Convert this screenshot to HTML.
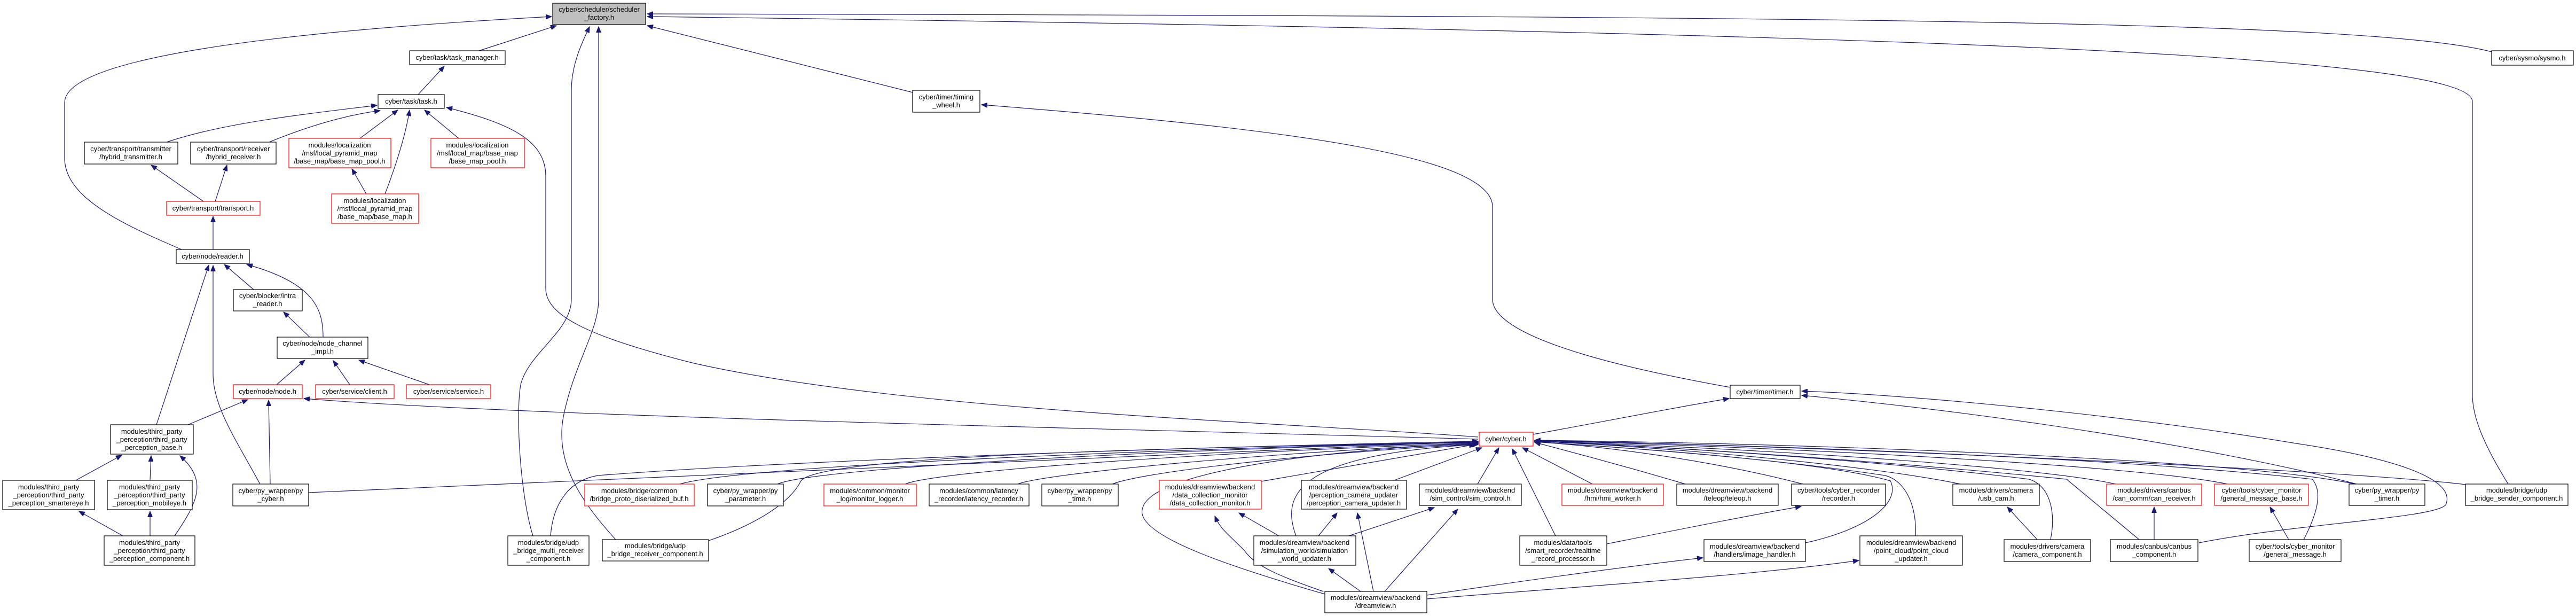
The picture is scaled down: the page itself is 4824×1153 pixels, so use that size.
<!DOCTYPE html>
<html><head><meta charset="utf-8"><style>
html,body{margin:0;padding:0;background:#fff;}
svg{display:block;}
text{font-family:"Liberation Sans",sans-serif;font-size:13px;fill:#000;text-anchor:middle;}
.e{fill:none;stroke:#191970;stroke-width:1.2;marker-end:url(#a);}
.n{fill:#fff;stroke:#000;stroke-width:1.2;}
.r{fill:#fff;stroke:#ff0000;stroke-width:1.2;}
.g{fill:#bfbfbf;stroke:#000;stroke-width:1.2;}
</style></head><body>
<svg width="4824" height="1153" viewBox="0 0 4824 1153" xmlns="http://www.w3.org/2000/svg">
<defs><marker id="a" markerUnits="userSpaceOnUse" markerWidth="12" markerHeight="9" refX="11" refY="4.5" orient="auto"><path d="M0,0 L11,4.5 L0,9 z" fill="#191970" stroke="#191970"/></marker></defs>
<g>
<path class="e" d="M897,95 L1042,48"/>
<path class="e" d="M340,467 C230,420 121,370 121,296 L121,192 C121,110 500,60 1033,31"/>
<path class="e" d="M998,1003 C975,930 965,780 975,720 C990,660 1070,620 1070,560 L1070,170 C1070,120 1090,80 1104,50"/>
<path class="e" d="M1153,1010 C1080,930 1040,860 1055,780 C1075,680 1121,620 1121,560 L1121,50"/>
<path class="e" d="M1709,173 L1212,48"/>
<path class="e" d="M4666,97 C4450,40 3500,30 1212,26"/>
<path class="e" d="M4697,906 C4650,830 4630,780 4630,738 L4630,190 C4630,100 3500,60 1212,31"/>
<path class="e" d="M3240,725 C3100,700 2795,640 2795,560 L2795,387 C2795,290 2400,240 1838,196"/>
<path class="e" d="M783,177 L832,124"/>
<path class="e" d="M312,266 C420,230 560,215 706,197"/>
<path class="e" d="M504,266 C580,235 650,215 712,207"/>
<path class="e" d="M674,259 L745,206"/>
<path class="e" d="M721,363 C745,300 760,250 767,206"/>
<path class="e" d="M859,259 L795,206"/>
<path class="e" d="M2768,818 C2400,790 1700,770 1300,680 C1100,630 1022,590 1022,540 L1022,330 C1022,260 950,230 836,201"/>
<path class="e" d="M686,363 L659,316"/>
<path class="e" d="M381,377 L283,309"/>
<path class="e" d="M403,377 L425,309"/>
<path class="e" d="M399,467 L399,405"/>
<path class="e" d="M475,542 L420,495"/>
<path class="e" d="M605,631 C605,580 590,530 462,495"/>
<path class="e" d="M293,795 L391,496"/>
<path class="e" d="M487,906 C440,820 399,760 399,700 L399,497"/>
<path class="e" d="M580,631 L531,584"/>
<path class="e" d="M518,720 L571,674"/>
<path class="e" d="M655,720 L624,675"/>
<path class="e" d="M804,720 L672,674"/>
<path class="e" d="M352,795 L464,748"/>
<path class="e" d="M506,906 L503,749"/>
<path class="e" d="M2768,822 C2000,800 1000,780 569,746"/>
<path class="e" d="M142,899 L228,852"/>
<path class="e" d="M281,899 L283,853"/>
<path class="e" d="M327,1003 C370,940 390,900 337,853"/>
<path class="e" d="M230,1003 L148,957"/>
<path class="e" d="M281,1003 L281,957"/>
<path class="e" d="M578,922 L2768,826"/>
<path class="e" d="M1031,1003 C1035,950 1060,900 1120,890 C1500,860 2300,835 2768,826"/>
<path class="e" d="M1327,1012 C1420,980 1480,940 1500,900 C1530,860 2000,840 2768,828"/>
<path class="e" d="M1273,906 C1400,870 2200,840 2768,827"/>
<path class="e" d="M1456,906 C1530,875 2200,840 2768,828"/>
<path class="e" d="M1695,906 C1760,880 2300,845 2768,829"/>
<path class="e" d="M1906,906 C1960,885 2400,845 2768,830"/>
<path class="e" d="M2083,906 C2150,880 2500,845 2768,831"/>
<path class="e" d="M2362,901 L2762,832"/>
<path class="e" d="M2611,899 L2775,838"/>
<path class="e" d="M2767,906 L2807,838"/>
<path class="e" d="M2982,906 L2851,838"/>
<path class="e" d="M2913,1003 L2832,840"/>
<path class="e" d="M2427,1003 C2400,930 2420,850 2768,832"/>
<path class="e" d="M2481,1112 C2300,1060 2120,1000 2140,950 C2160,880 2500,840 2768,830"/>
<path class="e" d="M3156,906 C3000,860 2900,835 2874,828"/>
<path class="e" d="M3376,906 C3200,860 3000,835 2874,827"/>
<path class="e" d="M3671,906 C3500,870 3100,835 2874,826"/>
<path class="e" d="M3962,906 C3800,870 3200,835 2874,826"/>
<path class="e" d="M4171,906 C4000,870 3300,835 2874,825"/>
<path class="e" d="M4410,906 C4200,860 3400,830 2874,824"/>
<path class="e" d="M4617,907 C4400,880 3400,835 2874,824"/>
<path class="e" d="M3840,1010 C3850,960 3840,910 3800,897 C3500,860 3100,835 2874,826"/>
<path class="e" d="M4006,1010 L3870,897 C3500,860 3100,835 2874,826"/>
<path class="e" d="M4314,1010 C4340,960 4350,920 4330,897 C4000,860 3400,835 2874,825"/>
<path class="e" d="M3587,1003 C3590,950 3570,900 3530,890 C3300,855 3000,835 2874,827"/>
<path class="e" d="M3381,1016 C3500,990 3560,940 3540,900 C3400,860 3000,835 2874,827"/>
<path class="e" d="M2871,813 C3000,790 3150,760 3238,746"/>
<path class="e" d="M4413,906 C4200,850 3800,780 3374,740"/>
<path class="e" d="M4118,1016 C4300,980 4560,970 4580,945 C4600,900 4500,860 4300,830 C4000,780 3600,740 3374,732"/>
<path class="e" d="M2478,1107 C2400,1080 2350,1060 2330,1030 C2300,1000 2285,990 2275,966"/>
<path class="e" d="M2395,1003 L2320,960"/>
<path class="e" d="M2469,1003 L2504,960"/>
<path class="e" d="M2526,1003 L2686,950"/>
<path class="e" d="M2572,1107 L2542,960"/>
<path class="e" d="M2593,1107 L2730,953"/>
<path class="e" d="M2548,1107 L2488,1064"/>
<path class="e" d="M2672,1114 C2900,1080 3050,1060 3189,1044"/>
<path class="e" d="M2672,1121 C3000,1095 3300,1075 3481,1049"/>
<path class="e" d="M3009,1018 C3150,990 3300,960 3373,948"/>
<path class="e" d="M3815,1010 L3759,949"/>
<path class="e" d="M4034,1010 L4034,949"/>
<path class="e" d="M4286,1010 L4251,949"/>
</g>
<g>
<rect class="g" x="1035" y="6" width="174" height="40"/><text x="1122" y="22">cyber/scheduler/scheduler</text><text x="1122" y="37">_factory.h</text>
<rect class="n" x="767" y="95" width="179" height="26"/><text x="856" y="112">cyber/task/task_manager.h</text>
<rect class="n" x="708" y="177" width="124" height="26"/><text x="770" y="194">cyber/task/task.h</text>
<rect class="n" x="158" y="266" width="175" height="41"/><text x="245" y="283">cyber/transport/transmitter</text><text x="245" y="298">/hybrid_transmitter.h</text>
<rect class="n" x="357" y="266" width="160" height="41"/><text x="437" y="283">cyber/transport/receiver</text><text x="437" y="298">/hybrid_receiver.h</text>
<rect class="r" x="541" y="259" width="191" height="55"/><text x="636" y="276">modules/localization</text><text x="636" y="291">/msf/local_pyramid_map</text><text x="636" y="306">/base_map/base_map_pool.h</text>
<rect class="r" x="807" y="259" width="175" height="55"/><text x="894" y="276">modules/localization</text><text x="894" y="291">/msf/local_map/base_map</text><text x="894" y="306">/base_map_pool.h</text>
<rect class="r" x="621" y="363" width="163" height="55"/><text x="702" y="380">modules/localization</text><text x="702" y="395">/msf/local_pyramid_map</text><text x="702" y="410">/base_map/base_map.h</text>
<rect class="r" x="312" y="377" width="175" height="26"/><text x="399" y="394">cyber/transport/transport.h</text>
<rect class="n" x="330" y="467" width="137" height="26"/><text x="398" y="484">cyber/node/reader.h</text>
<rect class="n" x="437" y="542" width="129" height="40"/><text x="501" y="558">cyber/blocker/intra</text><text x="501" y="573">_reader.h</text>
<rect class="n" x="519" y="631" width="170" height="40"/><text x="604" y="647">cyber/node/node_channel</text><text x="604" y="662">_impl.h</text>
<rect class="r" x="437" y="720" width="129" height="26"/><text x="501" y="737">cyber/node/node.h</text>
<rect class="r" x="591" y="720" width="147" height="26"/><text x="664" y="737">cyber/service/client.h</text>
<rect class="r" x="761" y="720" width="158" height="26"/><text x="840" y="737">cyber/service/service.h</text>
<rect class="n" x="207" y="795" width="155" height="55"/><text x="284" y="812">modules/third_party</text><text x="284" y="827">_perception/third_party</text><text x="284" y="842">_perception_base.h</text>
<rect class="n" x="5" y="899" width="172" height="55"/><text x="91" y="916">modules/third_party</text><text x="91" y="931">_perception/third_party</text><text x="91" y="946">_perception_smartereye.h</text>
<rect class="n" x="201" y="899" width="159" height="55"/><text x="280" y="916">modules/third_party</text><text x="280" y="931">_perception/third_party</text><text x="280" y="946">_perception_mobileye.h</text>
<rect class="n" x="195" y="1003" width="170" height="55"/><text x="280" y="1020">modules/third_party</text><text x="280" y="1035">_perception/third_party</text><text x="280" y="1050">_perception_component.h</text>
<rect class="n" x="436" y="906" width="142" height="41"/><text x="507" y="923">cyber/py_wrapper/py</text><text x="507" y="938">_cyber.h</text>
<rect class="n" x="951" y="1003" width="152" height="55"/><text x="1027" y="1020">modules/bridge/udp</text><text x="1027" y="1035">_bridge_multi_receiver</text><text x="1027" y="1050">_component.h</text>
<rect class="n" x="1128" y="1010" width="199" height="40"/><text x="1227" y="1026">modules/bridge/udp</text><text x="1227" y="1041">_bridge_receiver_component.h</text>
<rect class="r" x="1095" y="906" width="205" height="41"/><text x="1197" y="923">modules/bridge/common</text><text x="1197" y="938">/bridge_proto_diserialized_buf.h</text>
<rect class="n" x="1325" y="906" width="142" height="41"/><text x="1396" y="923">cyber/py_wrapper/py</text><text x="1396" y="938">_parameter.h</text>
<rect class="r" x="1543" y="906" width="173" height="41"/><text x="1629" y="923">modules/common/monitor</text><text x="1629" y="938">_log/monitor_logger.h</text>
<rect class="n" x="1740" y="906" width="187" height="41"/><text x="1833" y="923">modules/common/latency</text><text x="1833" y="938">_recorder/latency_recorder.h</text>
<rect class="n" x="1951" y="906" width="143" height="41"/><text x="2022" y="923">cyber/py_wrapper/py</text><text x="2022" y="938">_time.h</text>
<rect class="n" x="1709" y="169" width="126" height="41"/><text x="1772" y="186">cyber/timer/timing</text><text x="1772" y="201">_wheel.h</text>
<rect class="r" x="2770" y="809" width="101" height="26"/><text x="2820" y="826">cyber/cyber.h</text>
<rect class="r" x="2171" y="899" width="191" height="54"/><text x="2266" y="916">modules/dreamview/backend</text><text x="2266" y="931">/data_collection_monitor</text><text x="2266" y="946">/data_collection_monitor.h</text>
<rect class="n" x="2437" y="899" width="197" height="54"/><text x="2535" y="916">modules/dreamview/backend</text><text x="2535" y="931">/perception_camera_updater</text><text x="2535" y="946">/perception_camera_updater.h</text>
<rect class="n" x="2658" y="906" width="191" height="40"/><text x="2753" y="922">modules/dreamview/backend</text><text x="2753" y="937">/sim_control/sim_control.h</text>
<rect class="r" x="2925" y="906" width="190" height="40"/><text x="3020" y="922">modules/dreamview/backend</text><text x="3020" y="937">/hmi/hmi_worker.h</text>
<rect class="n" x="2348" y="1003" width="191" height="55"/><text x="2443" y="1020">modules/dreamview/backend</text><text x="2443" y="1035">/simulation_world/simulation</text><text x="2443" y="1050">_world_updater.h</text>
<rect class="n" x="2846" y="1003" width="163" height="55"/><text x="2927" y="1020">modules/data/tools</text><text x="2927" y="1035">/smart_recorder/realtime</text><text x="2927" y="1050">_record_processor.h</text>
<rect class="n" x="2481" y="1107" width="191" height="40"/><text x="2576" y="1123">modules/dreamview/backend</text><text x="2576" y="1138">/dreamview.h</text>
<rect class="n" x="3240" y="721" width="131" height="25"/><text x="3305" y="738">cyber/timer/timer.h</text>
<rect class="n" x="3140" y="906" width="190" height="40"/><text x="3235" y="922">modules/dreamview/backend</text><text x="3235" y="937">/teleop/teleop.h</text>
<rect class="n" x="3355" y="906" width="176" height="40"/><text x="3443" y="922">cyber/tools/cyber_recorder</text><text x="3443" y="937">/recorder.h</text>
<rect class="n" x="3657" y="906" width="162" height="40"/><text x="3738" y="922">modules/drivers/camera</text><text x="3738" y="937">/usb_cam.h</text>
<rect class="r" x="3945" y="906" width="178" height="40"/><text x="4034" y="922">modules/drivers/canbus</text><text x="4034" y="937">/can_comm/can_receiver.h</text>
<rect class="n" x="3191" y="1010" width="190" height="41"/><text x="3286" y="1027">modules/dreamview/backend</text><text x="3286" y="1042">/handlers/image_handler.h</text>
<rect class="n" x="3483" y="1003" width="192" height="55"/><text x="3579" y="1020">modules/dreamview/backend</text><text x="3579" y="1035">/point_cloud/point_cloud</text><text x="3579" y="1050">_updater.h</text>
<rect class="n" x="3753" y="1010" width="162" height="41"/><text x="3834" y="1027">modules/drivers/camera</text><text x="3834" y="1042">/camera_component.h</text>
<rect class="n" x="3952" y="1010" width="164" height="41"/><text x="4034" y="1027">modules/canbus/canbus</text><text x="4034" y="1042">_component.h</text>
<rect class="r" x="4147" y="906" width="176" height="40"/><text x="4235" y="922">cyber/tools/cyber_monitor</text><text x="4235" y="937">/general_message_base.h</text>
<rect class="n" x="4212" y="1010" width="172" height="41"/><text x="4298" y="1027">cyber/tools/cyber_monitor</text><text x="4298" y="1042">/general_message.h</text>
<rect class="n" x="4399" y="906" width="142" height="40"/><text x="4470" y="922">cyber/py_wrapper/py</text><text x="4470" y="937">_timer.h</text>
<rect class="n" x="4617" y="906" width="192" height="40"/><text x="4713" y="922">modules/bridge/udp</text><text x="4713" y="937">_bridge_sender_component.h</text>
<rect class="n" x="4666" y="95" width="153" height="27"/><text x="4742" y="113">cyber/sysmo/sysmo.h</text>
</g>
</svg>
</body></html>
